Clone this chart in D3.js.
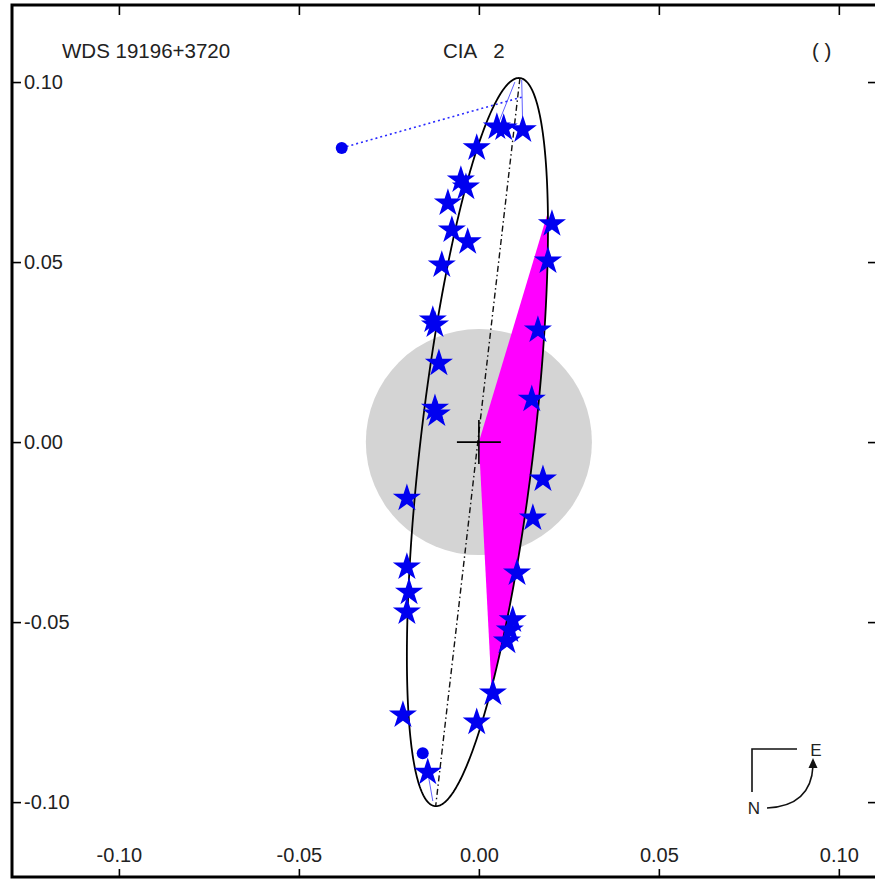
<!DOCTYPE html>
<html>
<head>
<meta charset="utf-8">
<script src="https://cdn.jsdelivr.net/npm/d3@7"></script>
<style>
  html, body { margin: 0; padding: 0; background: #fff; }
  svg { display: block; font-family: "Liberation Sans", Arial, sans-serif; }
</style>
</head>
<body>
<svg id="chart" width="875" height="879"></svg>
<script>
// ---------- data ----------
const xTickValues = [-0.10, -0.05, 0.00, 0.05, 0.10];
const yTickValues = [-0.10, -0.05, 0.00, 0.05, 0.10];
const xDomain = [-0.1297, 0.1106];
const yDomain = [-0.1208, 0.1214];

// observed positions (stars)
const starX = [0.0050, 0.0069, 0.0122, -0.0006, -0.0050, -0.0036, -0.0086, -0.0075, -0.0031, -0.0103,
               -0.0128, -0.0122, -0.0111, -0.0122, -0.0117, 0.0203, 0.0192, 0.0164, 0.0147, 0.0178,
               -0.0200, 0.0150, 0.0106, -0.0200, -0.0194, -0.0200, 0.0094, 0.0086, 0.0078, 0.0039,
               -0.0211, -0.0006, -0.0142];
const starY = [0.0875, 0.0872, 0.0867, 0.0817, 0.0728, 0.0708, 0.0664, 0.0589, 0.0556, 0.0492,
               0.0339, 0.0325, 0.0219, 0.0094, 0.0078, 0.0606, 0.0503, 0.0311, 0.0119, -0.0103,
               -0.0156, -0.0211, -0.0364, -0.0347, -0.0417, -0.0472, -0.0494, -0.0522, -0.0553, -0.0697,
               -0.0758, -0.0778, -0.0917];

// other observations (filled circles)
const dotX = [-0.0381, -0.0156];
const dotY = [0.0817, -0.0864];

// O-C residual lines: [xObs, yObs, xPred, yPred]
const residStars = [
  [0.0050, 0.0875, 0.0100, 0.1000],
  [0.0122, 0.0867, 0.0119, 0.1006],
  [-0.0142, -0.0917, -0.0128, -0.0997]
];
const residDots = [
  [-0.0381, 0.0817, 0.0119, 0.0958]
];

// apparent orbit ellipse
const orbitCenter = [-0.0004, 0.0];
const orbitAxes = [0.1018, 0.01575];     // semi-major, semi-minor
const orbitTiltDeg = 6.66;               // from north toward east
const sectorParam = [0.870, 2.294];      // eccentric-angle span of the shaded sector
const lineOfNodes = [[0.0114, 0.1011], [-0.0120, -0.1011]];
const circleRadius = 0.0314;
const crossHalf = 0.0061;

// ---------- drawing ----------
const svg = d3.select("#chart");
const L = 12, T = 5, R = 877, B = 877;
const x = d3.scaleLinear().domain(xDomain).range([L, R]);
const y = d3.scaleLinear().domain(yDomain).range([B, T]);

const phi = orbitTiltDeg * Math.PI / 180;
const u = [Math.sin(phi), Math.cos(phi)];
const v = [Math.cos(phi), -Math.sin(phi)];
function ellPt(t) {
  return [orbitCenter[0] + u[0] * orbitAxes[0] * Math.cos(t) + v[0] * orbitAxes[1] * Math.sin(t),
          orbitCenter[1] + u[1] * orbitAxes[0] * Math.cos(t) + v[1] * orbitAxes[1] * Math.sin(t)];
}
const line = d3.line().x(d => x(d[0])).y(d => y(d[1]));

// grey circle
svg.append("circle")
  .attr("cx", x(0)).attr("cy", y(0))
  .attr("r", x(circleRadius) - x(0))
  .attr("fill", "#d4d4d4");

// magenta sector
const sector = [[0, 0]];
const N1 = 120;
for (let i = 0; i <= N1; i++) sector.push(ellPt(sectorParam[0] + (sectorParam[1] - sectorParam[0]) * i / N1));
sector.push([0, 0]);
svg.append("path").attr("d", line(sector) + "Z").attr("fill", "#ff00ff").attr("stroke", "none");

// ellipse
const ell = d3.range(0, 361).map(i => ellPt(i * Math.PI / 180));
svg.append("path").attr("d", line(ell)).attr("fill", "none").attr("stroke", "#000").attr("stroke-width", 1.8);

// line of nodes (dash-dot)
svg.append("path").attr("d", line(lineOfNodes))
  .attr("fill", "none").attr("stroke", "#111").attr("stroke-width", 1.4)
  .attr("stroke-dasharray", "6,3,1.5,3");

// cross at primary
svg.append("path").attr("d", line([[-crossHalf, 0], [crossHalf, 0]])).attr("stroke", "#000").attr("stroke-width", 1.6);
svg.append("path").attr("d", line([[0, -crossHalf], [0, crossHalf]])).attr("stroke", "#000").attr("stroke-width", 1.6);

// residual lines
svg.selectAll(".rs").data(residStars).enter().append("line")
  .attr("x1", d => x(d[0])).attr("y1", d => y(d[1]))
  .attr("x2", d => x(d[2])).attr("y2", d => y(d[3]))
  .attr("stroke", "#6060ff").attr("stroke-width", 1);
svg.selectAll(".rd").data(residDots).enter().append("line")
  .attr("x1", d => x(d[0])).attr("y1", d => y(d[1]))
  .attr("x2", d => x(d[2])).attr("y2", d => y(d[3]))
  .attr("stroke", "#2a2aff").attr("stroke-width", 1.6)
  .attr("stroke-dasharray", "2,3");

// stars
const starSym = d3.symbol().type(d3.symbolStar).size(245);
svg.selectAll(".star").data(starX.map((d, i) => [d, starY[i]])).enter().append("path")
  .attr("d", starSym)
  .attr("transform", d => `translate(${x(d[0])},${y(d[1])})`)
  .attr("fill", "#0000f0");

// dots
svg.selectAll(".dot").data(dotX.map((d, i) => [d, dotY[i]])).enter().append("circle")
  .attr("cx", d => x(d[0])).attr("cy", d => y(d[1])).attr("r", 6)
  .attr("fill", "#0000f0");

// axes
const fmt = d => d.toFixed(2);
const fontSize = 20;
function styleAxis(g) {
  g.select(".domain").remove();
  g.selectAll(".tick line").attr("stroke", "#000").attr("stroke-width", 1.6);
  g.selectAll(".tick text").attr("fill", "#222").style("font-size", fontSize + "px")
    .style("font-family", '"Liberation Sans", Arial, sans-serif');
}
svg.append("g").attr("transform", `translate(${L},0)`)
  .call(d3.axisRight(y).tickValues(yTickValues).tickFormat(fmt).tickSize(9).tickPadding(3))
  .call(styleAxis);
svg.append("g").attr("transform", `translate(${R},0)`)
  .call(d3.axisLeft(y).tickValues(yTickValues).tickFormat("").tickSize(9))
  .call(styleAxis);
svg.append("g").attr("transform", `translate(0,${B})`)
  .call(d3.axisTop(x).tickValues(xTickValues).tickFormat(fmt).tickSize(8).tickPadding(7))
  .call(styleAxis);
svg.append("g").attr("transform", `translate(0,${T})`)
  .call(d3.axisBottom(x).tickValues(xTickValues).tickFormat("").tickSize(10))
  .call(styleAxis);

// frame
svg.append("rect").attr("x", L).attr("y", T).attr("width", R - L).attr("height", B - T)
  .attr("fill", "none").attr("stroke", "#000").attr("stroke-width", 3);

// titles
const tstyle = sel => sel.attr("fill", "#222").style("font-size", "20.5px");
svg.append("text").attr("x", 62).attr("y", 58).text("WDS 19196+3720").call(tstyle);
svg.append("text").attr("x", 443).attr("y", 58).style("white-space", "pre").text("CIA   2").call(tstyle);
svg.append("text").attr("x", 812).attr("y", 58).text("( )").call(tstyle);

// compass
const cg = svg.append("g");
cg.append("path").attr("d", "M752,792 L752,749 L797,749").attr("fill", "none").attr("stroke", "#111").attr("stroke-width", 1.6);
cg.append("path").attr("d", "M767,808 Q811,806 813,766").attr("fill", "none").attr("stroke", "#111").attr("stroke-width", 1.6);
cg.append("path").attr("d", "M813,758 L808.5,768 L817.5,768 Z").attr("fill", "#111");
cg.append("text").attr("x", 816).attr("y", 756).attr("text-anchor", "middle").text("E")
  .attr("fill", "#222").style("font-size", "17px");
cg.append("text").attr("x", 754).attr("y", 814).attr("text-anchor", "middle").text("N")
  .attr("fill", "#222").style("font-size", "17px");
</script>
</body>
</html>
